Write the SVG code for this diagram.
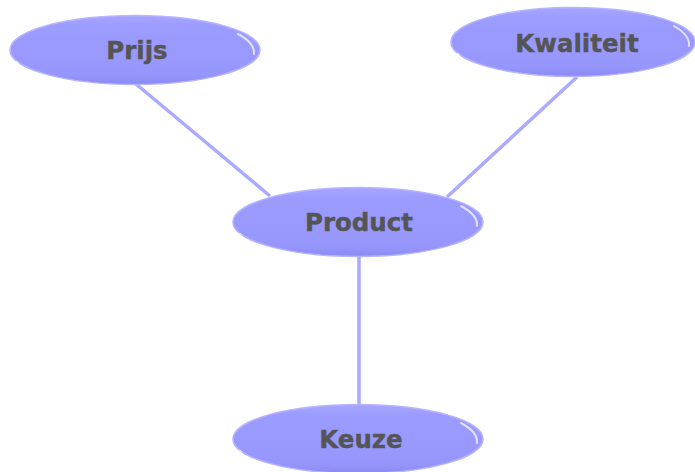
<svg xmlns="http://www.w3.org/2000/svg" width="695" height="472" viewBox="0 0 695 472">
<defs>
<linearGradient id="g" x1="0" y1="0" x2="0" y2="1">
<stop offset="0" stop-color="#a6a6ff"/>
<stop offset="0.15" stop-color="#9c9cff"/>
<stop offset="0.85" stop-color="#9696fc"/>
<stop offset="1" stop-color="#8a8af2"/>
</linearGradient>
</defs>
<style>
.n ellipse{fill:url(#g);stroke:#b4b4ff;stroke-width:1.5}
.n .hl{fill:none;stroke:#ffffff;stroke-width:2;stroke-linecap:round;opacity:0.7}
.n text{font-family:"DejaVu Sans",Verdana,sans-serif;font-weight:bold;font-size:24.5px;fill:#555555;stroke:#555555;stroke-width:0.4;text-anchor:middle}
.c line{stroke:#aaaaff;stroke-width:3.5}
</style>
<g id="connectors" class="c">
<line x1="136" y1="84" x2="270" y2="196"/>
<line x1="577" y1="77" x2="447" y2="197"/>
<line x1="359" y1="255" x2="359" y2="406"/>
</g>
<g id="prijs" class="n">
<ellipse cx="135" cy="50" rx="125" ry="34.5"/>
<path class="hl" d="M 238 34 Q 255 43 254 54"/>
<path class="hl" d="M 17 62 Q 21 70 31 73"/>
<text x="137" y="59">Prijs</text>
</g>
<g id="kwaliteit" class="n">
<ellipse cx="573" cy="42" rx="122" ry="34.5"/>
<path class="hl" d="M 674 26 Q 690 35 689 46"/>
<path class="hl" d="M 458 54 Q 462 62 472 65"/>
<text x="577" y="52">Kwaliteit</text>
</g>
<g id="product" class="n">
<ellipse cx="358" cy="222" rx="125" ry="34.5"/>
<path class="hl" d="M 461 206 Q 478 215 477 226"/>
<path class="hl" d="M 240 234 Q 244 242 254 245"/>
<text x="359" y="231">Product</text>
</g>
<g id="keuze" class="n">
<ellipse cx="358" cy="439" rx="125" ry="34.5"/>
<path class="hl" d="M 461 423 Q 478 432 477 443"/>
<path class="hl" d="M 240 451 Q 244 459 254 462"/>
<text x="361" y="448">Keuze</text>
</g>
</svg>
